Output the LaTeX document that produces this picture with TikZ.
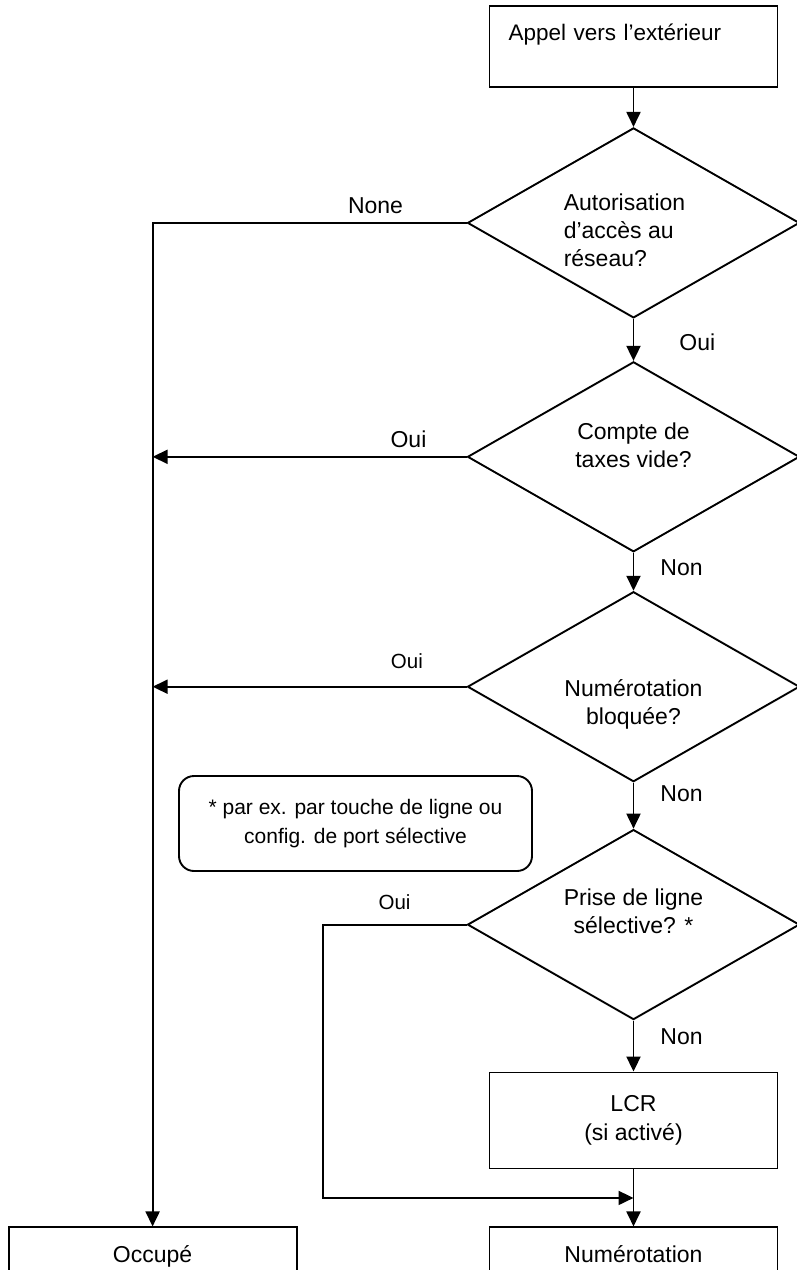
\documentclass[tikz,border=0pt]{standalone}
\usepackage{fontspec}
\setmainfont{Liberation Sans}
\usepackage{tikz}
\usetikzlibrary{positioning,arrows.meta,shapes,calc}

\begin{document}
\begin{tikzpicture}[
            x=1pt, y=-1pt,
            block/.style={rectangle, draw, line width=1.9pt, minimum width=288pt, minimum height=81pt, align=center, font=\fontsize{23}{28}\selectfont},
            decision/.style={diamond, draw, line width=1.9pt, minimum width=332pt, minimum height=190pt, inner sep=0pt},
            question/.style={align=center, font=\fontsize{23}{28}\selectfont},
            note/.style={rectangle, draw, rounded corners=15pt, line width=1.9pt, minimum width=353pt, minimum height=95pt, align=center, font=\fontsize{21}{29}\selectfont},
            answer/.style={inner sep=3pt, font=\fontsize{23}{28}\selectfont},
            small answer/.style={inner sep=3pt, font=\fontsize{20.5}{24}\selectfont},
            arrow/.style={-{Triangle[length=15pt, width=14pt]}, line width=1.9pt}
        ]
        \useasboundingbox (0,0) rectangle (797,1270);
        \node[block, align=left, text width=250pt, inner xsep=19pt, font=\fontsize{22.5}{28}\selectfont] (appel) at (633.5,46.5) {Appel vers l'extérieur\\ \mbox{}};
        \node[decision, below=39pt of appel] (acces) {};
        \node[question, align=left, xshift=-9pt, yshift=-7pt] (acces-txt) at (acces) {Autorisation\\d'accès au\\réseau?};
        \node[decision, below=42pt of acces] (taxes) {};
        \node[question, yshift=12pt] (taxes-txt) at (taxes) {Compte de\\taxes vide?};
        \node[decision, below=38pt of taxes] (bloquee) {};
        \node[question, yshift=-18pt] (bloquee-txt) at (bloquee) {Numérotation\\bloquée?};
        \node[decision, below=46pt of bloquee] (selective) {};
        \node[question, yshift=13pt] (selective-txt) at (selective) {Prise de ligne\\sélective? *};
        \node[block, minimum height=96pt, font=\fontsize{23}{29}\selectfont, below=51pt of selective] (lcr) {LCR\\(si activé)};
        \node[block, below=57pt of lcr] (num) {Numérotation\\ \mbox{}};
        \node[block, left=191pt of num] (occupe) {Occupé\\ \mbox{}};
        \node[note] (remarque) at (355.5,823.5) {* par ex. par touche de ligne ou\\config. de port sélective};
        \coordinate[left=144pt of selective.west] (detour);
        \coordinate (jonction) at ($(lcr.south)!0.5!(num.north)$);
        % main path
        \draw[arrow] (appel) -- (acces);
        \draw[arrow] (acces) -- node[answer, right=42pt, pos=0.56] {Oui} (taxes);
        \draw[arrow] (taxes) -- node[answer, right=23pt, pos=0.4] {Non} (bloquee);
        \draw[arrow] (bloquee) -- node[answer, right=23pt, pos=0.23] {Non} (selective);
        \draw[arrow] (selective) -- node[answer, right=23pt, pos=0.32] {Non} (lcr);
        \draw[arrow] (lcr) -- (num);
        % branches to the left
        \draw[arrow] (acces.west) -| node[answer, above=5.7pt, pos=0.145] {None} (occupe);
        \draw[arrow] (taxes.west) -- node[answer, above=4.7pt, pos=0.185] {Oui} (taxes.west -| occupe);
        \draw[arrow] (bloquee.west) -- node[small answer, above=13.6pt, pos=0.19] {Oui} (bloquee.west -| occupe);
        \draw[arrow] (selective.west) -- node[small answer, above=10.6pt] {Oui} (detour) |- (jonction);
        \end{tikzpicture}
\end{document}
